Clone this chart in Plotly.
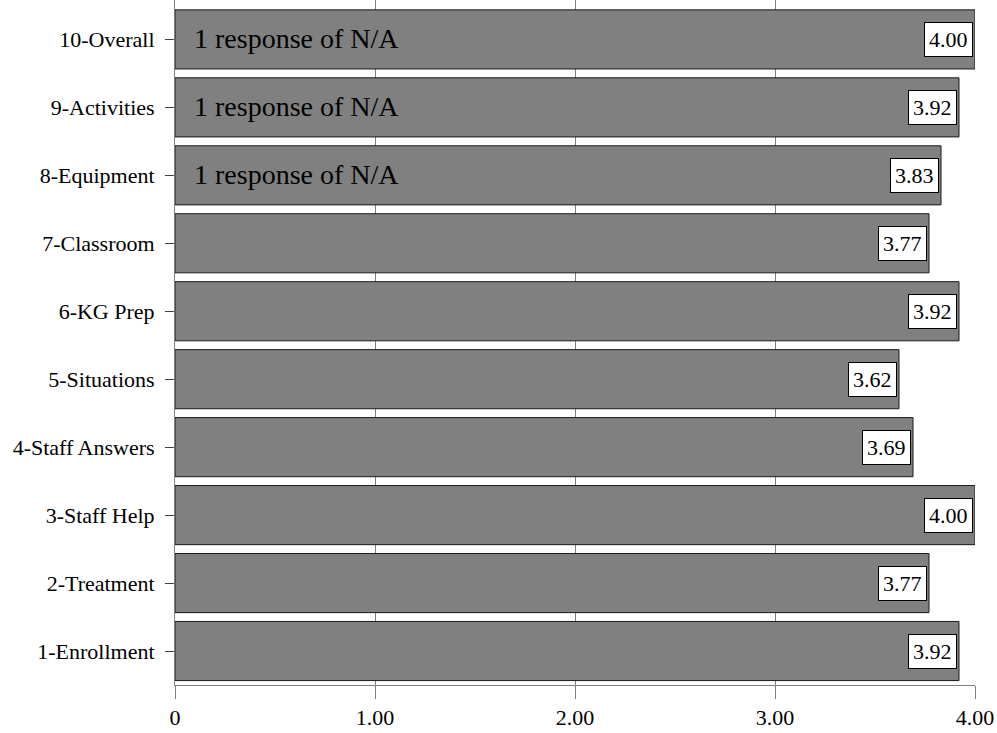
import plotly.graph_objects as go

categories = ["1-Enrollment", "2-Treatment", "3-Staff Help", "4-Staff Answers",
              "5-Situations", "6-KG Prep", "7-Classroom", "8-Equipment",
              "9-Activities", "10-Overall"]
values = [3.92, 3.77, 4.00, 3.69, 3.62, 3.92, 3.77, 3.83, 3.92, 4.00]
notes = ["", "", "", "", "", "", "", "1 response of N/A",
         "1 response of N/A", "1 response of N/A"]
x_tickvals = [0, 1, 2, 3, 4]
x_ticktext = ["0", "1.00", "2.00", "3.00", "4.00"]

FONT = "Liberation Serif, Times New Roman, serif"

fig = go.Figure()
fig.add_trace(go.Bar(
    y=categories, x=values, orientation="h",
    marker=dict(color="#808080", line=dict(color="#1a1a1a", width=1)),
    hoverinfo="skip",
))

annotations = []
for cat, v, note in zip(categories, values, notes):
    annotations.append(dict(
        x=v, y=cat, xref="x", yref="y", text=f"{v:.2f}",
        xanchor="right", yanchor="middle", xshift=-2, showarrow=False,
        font=dict(family=FONT, size=22, color="black"),
        bgcolor="white", bordercolor="black", borderwidth=1, borderpad=4,
    ))
    if note:
        annotations.append(dict(
            x=0, y=cat, xref="x", yref="y", text=note,
            xanchor="left", yanchor="middle", xshift=17, yshift=1, showarrow=False,
            font=dict(family=FONT, size=28, color="black"),
        ))

fig.update_layout(
    width=997, height=733,
    margin=dict(l=175, r=22, t=0, b=48),
    paper_bgcolor="white", plot_bgcolor="white",
    bargap=0.13,
    showlegend=False,
    font=dict(family=FONT, size=22, color="black"),
    annotations=annotations,
    xaxis=dict(
        range=[0, 4], tickvals=x_tickvals, ticktext=x_ticktext,
        showgrid=True, gridcolor="#808080", gridwidth=1,
        showline=True, linecolor="#808080", linewidth=1,
        ticks="outside", ticklen=13, tickcolor="#808080",
        zeroline=False, tickfont=dict(family=FONT, size=22),
    ),
    yaxis=dict(
        categoryorder="array", categoryarray=categories,
        range=[-0.5, 9.58],
        showgrid=False, showline=True, linecolor="#808080", linewidth=1,
        ticks="outside", ticklen=9, tickcolor="#404040",
        ticklabelstandoff=6,
        tickfont=dict(family=FONT, size=22),
    ),
)

fig.write_html(
    "out.html",
    config={"displayModeBar": False},
    post_script="document.body.style.margin='0px';document.body.style.overflow='hidden';",
)
